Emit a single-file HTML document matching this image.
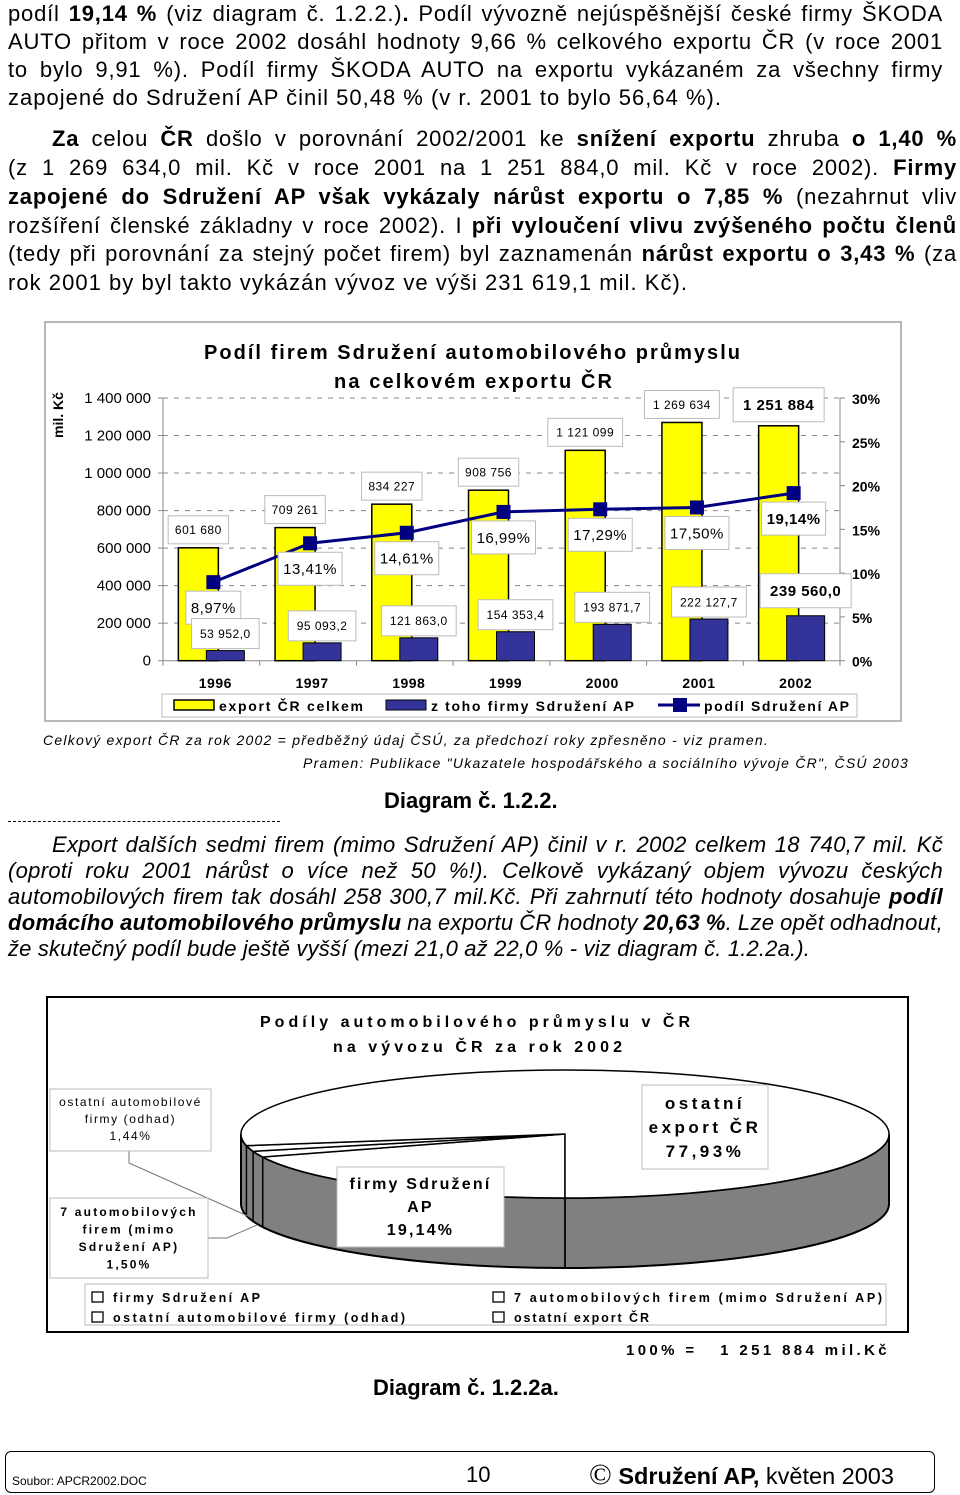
<!DOCTYPE html>
<html><head><meta charset="utf-8">
<style>
html,body{margin:0;padding:0;background:#fff;}
body{width:960px;height:1495px;position:relative;overflow:hidden;font-family:"Liberation Sans",Arial,sans-serif;color:#000;}
.ln{position:absolute;height:28px;line-height:28px;font-size:22px;white-space:nowrap;letter-spacing:0.8px;}
.it{font-style:italic;height:26px;line-height:26px;letter-spacing:0.3px;}
.ln span.in{display:inline-block;}
.fit{white-space:nowrap;}
.fit span.in{display:inline-block;}
svg text{font-family:"Liberation Sans",Arial,sans-serif;}
#charts{position:absolute;left:0;top:0;}
</style></head><body>

<div>
<div class="ln j" data-w="935" style="left:8px;top:0px"><span class="in">podíl <b>19,14 %</b> (viz diagram č. 1.2.2.)<b>.</b> Podíl vývozně nejúspěšnější české firmy ŠKODA</span></div>
<div class="ln j" data-w="935" style="left:8px;top:28px"><span class="in">AUTO přitom v roce 2002 dosáhl hodnoty 9,66 % celkového exportu ČR (v roce 2001</span></div>
<div class="ln j" data-w="935" style="left:8px;top:56px"><span class="in">to bylo 9,91 %). Podíl firmy ŠKODA AUTO na exportu vykázaném za všechny firmy</span></div>
<div class="ln fitl" data-t="714" style="left:8px;top:84px"><span class="in">zapojené do Sdružení AP činil 50,48 % (v r. 2001 to bylo 56,64 %).</span></div>
</div>
<div>
<div class="ln j" data-w="905" style="left:52px;top:125px"><span class="in"><b>Za</b> celou <b>ČR</b> došlo v porovnání 2002/2001 ke <b>snížení exportu</b> zhruba <b>o 1,40 %</b></span></div>
<div class="ln j" data-w="949" style="left:8px;top:154px"><span class="in">(z 1 269 634,0 mil. Kč v roce 2001 na 1 251 884,0 mil. Kč v roce 2002). <b>Firmy</b></span></div>
<div class="ln j" data-w="949" style="left:8px;top:183px"><span class="in"><b>zapojené do Sdružení AP však vykázaly nárůst exportu o 7,85 %</b> (nezahrnut vliv</span></div>
<div class="ln j" data-w="949" style="left:8px;top:212px"><span class="in">rozšíření členské základny v roce 2002). I <b>při vyloučení vlivu zvýšeného počtu členů</b></span></div>
<div class="ln j" data-w="949" style="left:8px;top:240px"><span class="in">(tedy při porovnání za stejný počet firem) byl zaznamenán <b>nárůst exportu o 3,43 %</b> (za</span></div>
<div class="ln fitl" data-t="680" style="left:8px;top:269px"><span class="in">rok 2001 by byl takto vykázán vývoz ve výši 231 619,1 mil. Kč).</span></div>
</div>

<div class="fit fitl" data-t="726" style="position:absolute;left:43px;top:732px;font-size:14px;font-style:italic"><span class="in">Celkový export ČR za rok 2002 = předběžný údaj ČSÚ, za předchozí roky zpřesněno - viz pramen.</span></div>
<div class="fit fitl" data-t="606" style="position:absolute;left:303px;top:755px;font-size:14px;font-style:italic"><span class="in">Pramen: Publikace "Ukazatele hospodářského a sociálního vývoje ČR", ČSÚ 2003</span></div>
<div style="position:absolute;left:384px;top:788px;font-size:22px;font-weight:bold;white-space:nowrap">Diagram č. 1.2.2.</div>
<div style="position:absolute;left:8px;top:821px;width:272px;border-top:1px dashed #000"></div>

<div>
<div class="ln it j" data-w="891" style="left:52px;top:832px"><span class="in">Export dalších sedmi firem (mimo Sdružení AP) činil v r. 2002 celkem 18 740,7 mil. Kč</span></div>
<div class="ln it j" data-w="935" style="left:8px;top:858px"><span class="in">(oproti roku 2001 nárůst o více než 50 %!). Celkově vykázaný objem vývozu českých</span></div>
<div class="ln it j" data-w="935" style="left:8px;top:884px"><span class="in">automobilových firem tak dosáhl 258 300,7 mil.Kč. Při zahrnutí této hodnoty dosahuje <b>podíl</b></span></div>
<div class="ln it j" data-w="935" style="left:8px;top:910px"><span class="in"><b>domácího automobilového průmyslu</b> na exportu ČR hodnoty <b>20,63 %</b>. Lze opět odhadnout,</span></div>
<div class="ln it fitl" data-t="802" style="left:8px;top:936px"><span class="in">že skutečný podíl bude ještě vyšší (mezi 21,0 až 22,0 % - viz diagram č. 1.2.2a.).</span></div>
</div>

<div class="fit fitl" data-t="264" style="position:absolute;left:626px;top:1342px;font-size:15px;font-weight:bold"><span class="in">100% =&nbsp;&nbsp; 1 251 884 mil.Kč</span></div>
<div style="position:absolute;left:373px;top:1375px;font-size:22px;font-weight:bold;white-space:nowrap">Diagram č. 1.2.2a.</div>

<div style="position:absolute;left:5px;top:1451px;width:928px;height:40px;border:1.5px solid #000;border-radius:6px">
<div style="position:absolute;left:6px;top:22px;font-size:12px">Soubor: APCR2002.DOC</div>
<div style="position:absolute;left:460px;top:10px;font-size:22px">10</div>
<div style="position:absolute;left:583px;top:6px;font-size:23.5px;white-space:nowrap"><span style="font-size:30px;font-family:'Liberation Serif',serif">©</span> <b>Sdružení AP,</b> květen 2003</div>
</div>

<svg id="charts" width="960" height="1495" viewBox="0 0 960 1495" xmlns="http://www.w3.org/2000/svg">
<g id="bar"></g>
<g id="pie"></g>
</svg>

<script>
// ---- Bar chart data ----
const years = ['1996','1997','1998','1999','2000','2001','2002'];
const totalExport = [601680, 709261, 834227, 908756, 1121099, 1269634, 1251884];
const totalLabels = ['601 680','709 261','834 227','908 756','1 121 099','1 269 634','1 251 884'];
const apExport = [53952.0, 95093.2, 121863.0, 154353.4, 193871.7, 222127.7, 239560.0];
const apLabels = ['53 952,0','95 093,2','121 863,0','154 353,4','193 871,7','222 127,7','239 560,0'];
const apShare = [8.97, 13.41, 14.61, 16.99, 17.29, 17.50, 19.14];
const shareLabels = ['8,97%','13,41%','14,61%','16,99%','17,29%','17,50%','19,14%'];
const leftTicks = [0, 200000, 400000, 600000, 800000, 1000000, 1200000, 1400000];
const leftTickLabels = ['0','200 000','400 000','600 000','800 000','1 000 000','1 200 000','1 400 000'];
const rightTicks = [0, 5, 10, 15, 20, 25, 30];
const rightTickLabels = ['0%','5%','10%','15%','20%','25%','30%'];

// ---- Pie data ----
const pieNames = ['firmy Sdružení AP','7 automobilových firem (mimo Sdružení AP)','ostatní automobilové firmy (odhad)','ostatní export ČR'];
const pieValues = [19.14, 1.50, 1.44, 77.93];

const NS='http://www.w3.org/2000/svg';
function mk(tag, attrs, parent, text){
  const e=document.createElementNS(NS,tag);
  for(const k in attrs) e.setAttribute(k, attrs[k]);
  if(text!==undefined) e.textContent=text;
  parent.appendChild(e); return e;
}

// ---- justify body lines ----
document.querySelectorAll('.j').forEach(el=>{
  const sp=el.querySelector('.in');
  const w=sp.getBoundingClientRect().width;
  const n=(sp.textContent.match(/ /g)||[]).length;
  if(n>0) sp.style.wordSpacing=((+el.dataset.w - w)/n)+'px';
});
document.querySelectorAll('.fitl').forEach(el=>{
  const sp=el.querySelector('.in');
  sp.style.letterSpacing='0px';
  const w=sp.getBoundingClientRect().width;
  const n=sp.textContent.length;
  sp.style.letterSpacing=((+el.dataset.t - w)/n)+'px';
});

// ---- Bar chart ----
(function(){
  const g=document.getElementById('bar');
  const X0=163, X1=840, Y0=660.7, H=262.7;
  const yV=v=>Y0 - v/1400000*H;
  const yP=p=>Y0 - p/30*H;
  const band=(X1-X0)/years.length;
  const xc=i=>X0+(i+0.5)*band;

  let r=mk('rect',{x:45,y:322,width:856,height:399,fill:'#fff',stroke:'#a0a0a0','stroke-width':1.5},g);
   

  let t=mk('text',{x:204,y:359,'font-size':20,'font-weight':'bold',textLength:536,lengthAdjust:'spacing'},g,'Podíl firem Sdružení automobilového průmyslu');
   
  t=mk('text',{x:334,y:388,'font-size':20,'font-weight':'bold',textLength:278,lengthAdjust:'spacing'},g,'na celkovém exportu ČR');
   

  t=mk('text',{x:0,y:0,transform:'translate(63,415) rotate(-90)','text-anchor':'middle','font-size':14,'font-weight':'bold'},g,'mil. Kč');
   

  leftTicks.forEach((v,i)=>{
    if(v>0){
      const l=mk('line',{x1:X0,x2:X1,y1:yV(v),y2:yV(v),stroke:'#888','stroke-dasharray':'5,6','stroke-width':1},g);
       
    }
    const tk=mk('line',{x1:X0-5,x2:X0,y1:yV(v),y2:yV(v),stroke:'#888'},g);
     
    const tl=mk('text',{x:151,y:yV(v)+5,'text-anchor':'end','font-size':15},g,leftTickLabels[i]);
     
  });
  rightTicks.forEach((p,i)=>{
    const tk=mk('line',{x1:X1,x2:X1+5,y1:yP(p),y2:yP(p),stroke:'#888'},g);
     
    const tl=mk('text',{x:852,y:yP(p)+6,'font-size':14,'font-weight':'bold'},g,rightTickLabels[i]);
     
  });
  let ax=mk('line',{x1:X0,x2:X0,y1:yV(1400000),y2:Y0,stroke:'#888'},g);
   
  ax=mk('line',{x1:X1,x2:X1,y1:yV(1400000),y2:Y0,stroke:'#888'},g);
   
  ax=mk('line',{x1:X0,x2:X1,y1:Y0,y2:Y0,stroke:'#888'},g);
   
  for(let i=0;i<=years.length;i++){
    const tk=mk('line',{x1:X0+i*band,x2:X0+i*band,y1:Y0,y2:Y0+5,stroke:'#888'},g);
     
  }

  years.forEach((yr,i)=>{
    const c=xc(i);
    const yb=mk('rect',{x:c-33,y:yV(totalExport[i]),width:40,height:Y0-yV(totalExport[i]),fill:'#ffff00',stroke:'#000','stroke-width':1.5},g);
     
    const bb=mk('rect',{x:c-5,y:yV(apExport[i]),width:38,height:Y0-yV(apExport[i]),fill:'#333399',stroke:'#000','stroke-width':1},g);
     
    const xl=mk('text',{x:c+4,y:688,'text-anchor':'middle','font-size':14,'font-weight':'bold','letter-spacing':0.5},g,yr);
     
  });

  const pts=apShare.map((p,i)=>(xc(i)+2)+','+yP(p)).join(' ');
  const pl=mk('polyline',{points:pts,fill:'none',stroke:'#000080','stroke-width':3},g);
   
  apShare.forEach((p,i)=>{
    const m=mk('rect',{x:xc(i)+2-7,y:yP(p)-7,width:14,height:14,fill:'#000080'},g);
     
  });

  function labelBox(cx, top, h, txt, fs, bold, name){
    const w=txt.length*fs*0.6+10;
    const b=mk('rect',{x:cx-w/2,y:top,width:w,height:h,fill:'#fff',stroke:'#bbb','stroke-width':1},g);
     
    const tt=mk('text',{x:cx,y:top+h/2+fs*0.36,'text-anchor':'middle','font-size':fs,'font-weight':bold?'bold':'normal','letter-spacing':0.5},g,txt);
     
  }
  years.forEach((yr,i)=>{
    const c=xc(i), last=i===years.length-1;
    const th=last?34:28;
    labelBox(c-13, yV(totalExport[i])-4-th, th, totalLabels[i], last?15:12, last, 'total-label-'+yr);
    labelBox(c+2, yP(apShare[i])+9, 33, shareLabels[i], 15, last, 'share-label-'+yr);
    const bh=last?34:30;
    labelBox(c+14, yV(apExport[i])-(last?8:2)-bh, bh, apLabels[i], last?15:12, last, 'ap-label-'+yr);
  });

  const lg=mk('g',{},g);
   
  let lb=mk('rect',{x:162,y:694,width:695,height:23,fill:'#fff',stroke:'#bbb'},lg);
   
  let s=mk('rect',{x:174,y:700,width:40,height:10,fill:'#ffff00',stroke:'#000','stroke-width':1.5},lg);
   
  let lt=mk('text',{x:219,y:711,'font-size':14,'font-weight':'bold',textLength:144,lengthAdjust:'spacing'},lg,'export ČR celkem');
   
  s=mk('rect',{x:386,y:700,width:40,height:10,fill:'#333399',stroke:'#000'},lg);
   
  lt=mk('text',{x:431,y:711,'font-size':14,'font-weight':'bold',textLength:203,lengthAdjust:'spacing'},lg,'z toho firmy Sdružení AP');
   
  s=mk('line',{x1:658,x2:700,y1:705,y2:705,stroke:'#000080','stroke-width':3},lg);
   
  s=mk('rect',{x:673,y:698,width:14,height:14,fill:'#000080'},lg);
   
  lt=mk('text',{x:704,y:711,'font-size':14,'font-weight':'bold',textLength:145,lengthAdjust:'spacing'},lg,'podíl Sdružení AP');
   
})();

// ---- Pie chart ----
(function(){
  const g=document.getElementById('pie');
  let fr=mk('rect',{x:47,y:997,width:861,height:335,fill:'#fff',stroke:'#000','stroke-width':2},g);
   
  let t=mk('text',{x:260,y:1027,'font-size':16,'font-weight':'bold',textLength:430,lengthAdjust:'spacing'},g,'Podíly automobilového průmyslu v ČR');
   
  t=mk('text',{x:333,y:1052,'font-size':16,'font-weight':'bold',textLength:289,lengthAdjust:'spacing'},g,'na vývozu ČR za rok 2002');
   

  const cx=565, cy=1134, rx=324, ry=64, D=70;
  const P=a=>{const r=a*Math.PI/180; return [cx+rx*Math.cos(r), cy+ry*Math.sin(r)];};
  const side=mk('path',{d:`M${cx+rx},${cy} A${rx},${ry} 0 0 1 ${cx-rx},${cy} L${cx-rx},${cy+D} A${rx},${ry} 0 0 0 ${cx+rx},${cy+D} Z`,fill:'#808080',stroke:'#000','stroke-width':2},g);
   
  const total=pieValues.reduce((a,b)=>a+b,0);
  let ang=90; const bounds=[90];
  pieValues.forEach(v=>{ang+=v/total*360; bounds.push(ang);});
  pieValues.forEach((v,i)=>{
    const a0=bounds[i], a1=bounds[i+1];
    const p0=P(a0), p1=P(a1);
    const large=(a1-a0)>180?1:0;
    const sl=mk('path',{d:`M${cx},${cy} L${p0[0]},${p0[1]} A${rx},${ry} 0 ${large} 1 ${p1[0]},${p1[1]} Z`,fill:'#fff',stroke:'#000','stroke-width':1.5},g);
     
  });
  bounds.forEach(a=>{
    const n=((a%360)+360)%360;
    if(n>0 && n<180){
      const p=P(n);
      const l=mk('line',{x1:p[0],y1:p[1],x2:p[0],y2:p[1]+D,stroke:'#000','stroke-width':1.5},g);
       
    }
  });

  function box(x,y,w,h,lines,fs,bold,ls,name,lh,off){
    const gg=mk('g',{},g);
     
    const b=mk('rect',{x:x,y:y,width:w,height:h,fill:'#fff',stroke:'#bbb'},gg);
     
    lines.forEach((s,k)=>{
      const tt=mk('text',{x:x+w/2,y:y+off+k*lh,'text-anchor':'middle','font-size':fs,'font-weight':bold?'bold':'normal','letter-spacing':ls},gg,s);
       
    });
  }
  let ll=mk('polyline',{points:'129,1151 129,1163 250,1217',fill:'none',stroke:'#777'},g);
   
  ll=mk('polyline',{points:'208,1238 227,1238 257,1225',fill:'none',stroke:'#777'},g);
   

  box(50,1089,161,62,['ostatní automobilové','firmy (odhad)',pieValues[2].toFixed(2).replace('.',',')+'%'],12,false,1.6,'pie-label-other-auto',17,17);
  box(50,1198,158,80,['7 automobilových','firem (mimo','Sdružení AP)',pieValues[1].toFixed(2).replace('.',',')+'%'],12,true,2.2,'pie-label-seven-firms',17.5,18);
  box(337,1167,167,80,['firmy Sdružení','AP',pieValues[0].toFixed(2).replace('.',',')+'%'],16,true,2.2,'pie-label-ap',23,22);
  box(642,1085,126,84,['ostatní','export ČR',pieValues[3].toFixed(2).replace('.',',')+'%'],17,true,3.5,'pie-label-other-export',24,24);

  const lg=mk('g',{},g);
   
  const lr=mk('rect',{x:85,y:1284,width:801,height:41,fill:'#fff',stroke:'#bbb'},lg);
   
  const pos=[[92,1293],[493,1293],[92,1313],[493,1313]];
  const lens=[147,368,292,135];
  [0,1,2,3].forEach((idx,k)=>{
    const p=pos[k];
    const sq=mk('rect',{x:p[0],y:p[1]-1,width:11,height:10,fill:'#fff',stroke:'#000','stroke-width':1.3},lg);
     
    const tt=mk('text',{x:p[0]+21,y:p[1]+9,'font-size':12.5,'font-weight':'bold',textLength:lens[k],lengthAdjust:'spacing'},lg,pieNames[idx]);
     
  });
})();
</script>
</body></html>
